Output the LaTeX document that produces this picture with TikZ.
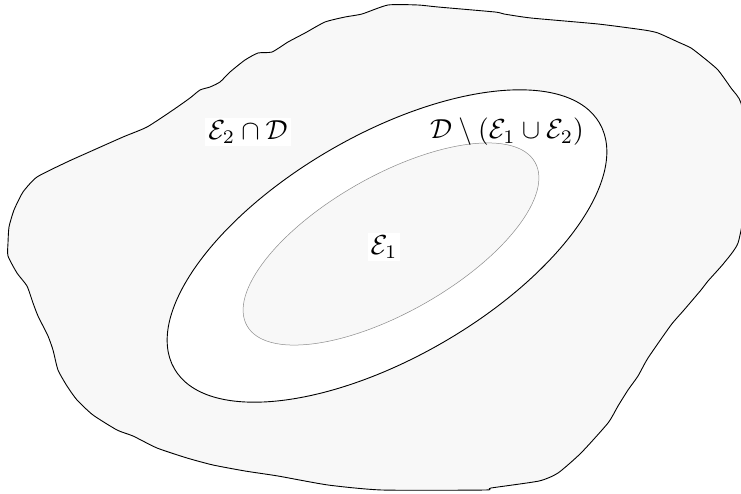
\documentclass[tikz,border=0pt]{standalone}
\definecolor{blobfill}{HTML}{F8F8F8}
\definecolor{innerline}{HTML}{8C8C8C}
\newcommand{\lblmath}[1]{\scalebox{2.75}{$#1$}}
\tikzset{
  lbl/.style={fill=white, inner sep=3pt},
  lblclear/.style={lbl, fill=none},
  blob/.style={draw=black, fill=blobfill, line width=0.9pt, line join=round},
  outerell/.style={draw=black, fill=white, line width=0.9pt},
  innerell/.style={draw=innerline, fill=blobfill, line width=0.5pt}
}
\begin{document}
\begin{tikzpicture}[x=1pt,y=-1pt]
\fill[white] (0,0) rectangle (741,493);
\path[use as bounding box] (0,0) rectangle (741,493);
\begin{scope}
\clip (0,0) rectangle (741,493);
\path[blob] plot[smooth cycle, tension=0.35] coordinates {
(388,5) (418,5) (438,7) (495,12) (504,14) (531,18) (598,24) (644,30) (658,33)
(678,42) (691,48) (704,58) (718,70) (731,88) (741,103) (747,150) (746,200)
(738,243) (724,263) (708,281) (701,290) (684,310) (671,325) (648,358) (638,376)
(628,390) (618,406) (608,423) (581,453) (558,473) (539,481) (491,488) (485,490)
(382,490) (328,485) (278,476) (245,471) (213,465) (187,458) (157,448) (133,436)
(117,430) (93,415) (77,400) (67,386) (58,370) (53,350) (48,336) (38,316)
(33,303) (27,286) (17,273) (8,256) (8,243) (9,227) (14,210) (23,192)
(37,177) (67,162) (87,153) (123,137) (147,127) (173,110) (190,98) (200,90)
(210,87) (220,82) (230,72) (245,60) (258,53) (272,52) (288,42) (305,33)
(325,22) (345,17) (362,14)};
\end{scope}
\path[outerell, rotate around={30:(387,246)}] (387,246) ellipse [x radius=245.5, y radius=111.5];
\path[innerell, rotate around={29.6:(391,244)}] (391,244) ellipse [x radius=165.6, y radius=68.3];
\node[lbl] (l1) at (248,132) {\lblmath{\mathcal{E}_2\cap\mathcal{D}}};
\node[lblclear] (l2) at (507,132) {\lblmath{\mathcal{D}\setminus(\mathcal{E}_1\cup\mathcal{E}_2)}};
\node[lbl] (l3) at (384,247) {\lblmath{\mathcal{E}_1}};
\end{tikzpicture}
\end{document}
